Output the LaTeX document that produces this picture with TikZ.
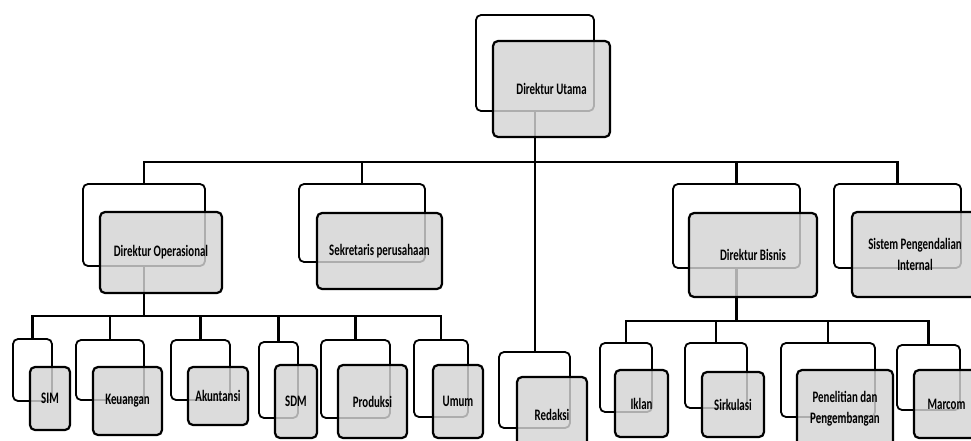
\documentclass[tikz,border=0pt]{standalone}
\usepackage{fontspec}
\setmainfont{Carlito}
\newfontfamily\boxfont{Carlito}[FakeStretch=0.68]
\definecolor{boxgrey}{RGB}{212,212,212}
\begin{document}
\begin{tikzpicture}[x=1pt,y=-1pt,
 backbox/.style={draw=black, line width=1.8pt, rounded corners=5pt, fill=white, inner sep=0pt},
 frontbox/.style={draw=black, line width=2.2pt, rounded corners=5pt, fill=boxgrey, fill opacity=0.82, text opacity=1, inner sep=1pt, align=center, font=\boxfont\bfseries\fontsize{16}{21}\selectfont},
 conn/.style={draw=black, line width=2.4pt}]
\clip (0,0) rectangle (971,441);
% back frames
\node[backbox,minimum width=118pt,minimum height=96pt] (du-b) at (535,63) {};
\node[backbox,minimum width=122pt,minimum height=82pt] (op-b) at (144,225) {};
\node[backbox,minimum width=126pt,minimum height=78pt] (sk-b) at (362,223) {};
\node[backbox,minimum width=127pt,minimum height=84pt] (bi-b) at (736.5,226) {};
\node[backbox,minimum width=127pt,minimum height=84pt] (sp-b) at (897.5,226) {};
\node[backbox,minimum width=39pt,minimum height=62pt] (sim-b) at (32.5,370) {};
\node[backbox,minimum width=68pt,minimum height=60pt] (ku-b) at (110,370) {};
\node[backbox,minimum width=59pt,minimum height=60pt] (ak-b) at (200.5,370) {};
\node[backbox,minimum width=39pt,minimum height=76pt] (sdm-b) at (278.5,380) {};
\node[backbox,minimum width=69pt,minimum height=78pt] (pr-b) at (355.5,379) {};
\node[backbox,minimum width=54pt,minimum height=77pt] (um-b) at (441,378.5) {};
\node[backbox,minimum width=71pt,minimum height=76pt] (rd-b) at (534.5,390) {};
\node[backbox,minimum width=52pt,minimum height=69pt] (ik-b) at (626,377.5) {};
\node[backbox,minimum width=62pt,minimum height=65pt] (sr-b) at (716,375.5) {};
\node[backbox,minimum width=94pt,minimum height=74pt] (pp-b) at (828,380) {};
\node[backbox,minimum width=63pt,minimum height=65pt] (mc-b) at (928.5,377.5) {};
% bar levels
\coordinate (bar0) at (0,162);
\coordinate (bar1) at (0,316);
\coordinate (bar2) at (0,321);
% connectors
\foreach \c in {op,sk,bi,sp}
  \draw[conn] (du-b.south) -- (du-b.south |- bar0) -| (\c-b.north);
\draw[conn] (du-b.south) -- (du-b.south |- rd-b.north);
\foreach \c in {sim,ku,ak,sdm,pr,um}
  \draw[conn] (op-b.south) -- (op-b.south |- bar1) -| (\c-b.north);
\foreach \c in {ik,sr,pp,mc}
  \draw[conn] (bi-b.south) -- (bi-b.south |- bar2) -| (\c-b.north);
% front boxes
\node[frontbox,minimum width=117pt,minimum height=96pt] (du) at (551.5,89) {Direktur Utama};
\node[frontbox,minimum width=122pt,minimum height=81pt] (op) at (161,252.5) {Direktur Operasional};
\node[frontbox,minimum width=125pt,minimum height=76pt] (sk) at (379.5,251) {Sekretaris perusahaan};
\node[frontbox,minimum width=128pt,minimum height=84pt] (bi) at (753,255) {Direktur Bisnis};
\node[frontbox,minimum width=126pt,minimum height=85pt] (sp) at (915,254.5) {Sistem Pengendalian\\Internal};
\node[frontbox,minimum width=40pt,minimum height=63pt] (sim) at (50,398.5) {SIM};
\node[frontbox,minimum width=69pt,minimum height=68pt] (ku) at (127.5,401) {Keuangan};
\node[frontbox,minimum width=60pt,minimum height=58pt] (ak) at (218,396) {Akuntansi};
\node[frontbox,minimum width=42pt,minimum height=73pt] (sdm) at (296,401.5) {SDM};
\node[frontbox,minimum width=69pt,minimum height=73pt] (pr) at (372.5,401.5) {Produksi};
\node[frontbox,minimum width=50pt,minimum height=73pt] (um) at (458,401.5) {Umum};
\node[frontbox,minimum width=70pt,minimum height=76pt] (rd) at (552,415) {Redaksi};
\node[frontbox,minimum width=53pt,minimum height=67pt] (ik) at (641.5,403.5) {Iklan};
\node[frontbox,minimum width=62pt,minimum height=65pt] (sr) at (733,404.5) {Sirkulasi};
\node[frontbox,minimum width=96pt,minimum height=77pt] (pp) at (845,408.5) {Penelitian dan\\Pengembangan};
\node[frontbox,minimum width=65pt,minimum height=68pt] (mc) at (946.5,404) {Marcom};
\end{tikzpicture}
\end{document}
